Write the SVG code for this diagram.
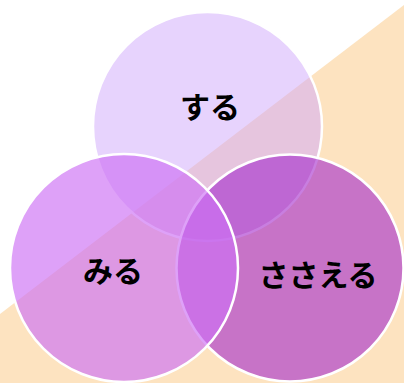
<svg xmlns="http://www.w3.org/2000/svg" width="404" height="383" viewBox="0 0 404 383">
<style>
.c{stroke:#ffffff;stroke-width:2.5}
.t{font-family:"Noto Sans CJK JP","Noto Sans CJK SC",sans-serif;font-size:30px;font-weight:bold;fill:#000000;text-anchor:middle}
</style>
<rect x="0" y="0" width="404" height="383" fill="#ffffff"/>
<polygon points="0,314 404,5 404,383 0,383" fill="#FDE3C0"/>
<g id="node-suru">
<circle class="c" cx="207.5" cy="126.5" r="114.5" fill="rgb(208,168,252)" fill-opacity="0.5"/>
</g>
<g id="node-sasaeru">
<circle class="c" cx="290" cy="268" r="113.5" fill="rgb(163,40,204)" fill-opacity="0.6"/>
</g>
<g id="node-miru">
<circle class="c" cx="124" cy="268" r="114" fill="rgb(205,112,244)" fill-opacity="0.66"/>
</g>
<g id="labels">
<text class="t" x="210" y="118">する</text>
<text class="t" x="113" y="282">みる</text>
<text class="t" x="318" y="286">ささえる</text>
</g>
<g id="connectors"></g>
</svg>
